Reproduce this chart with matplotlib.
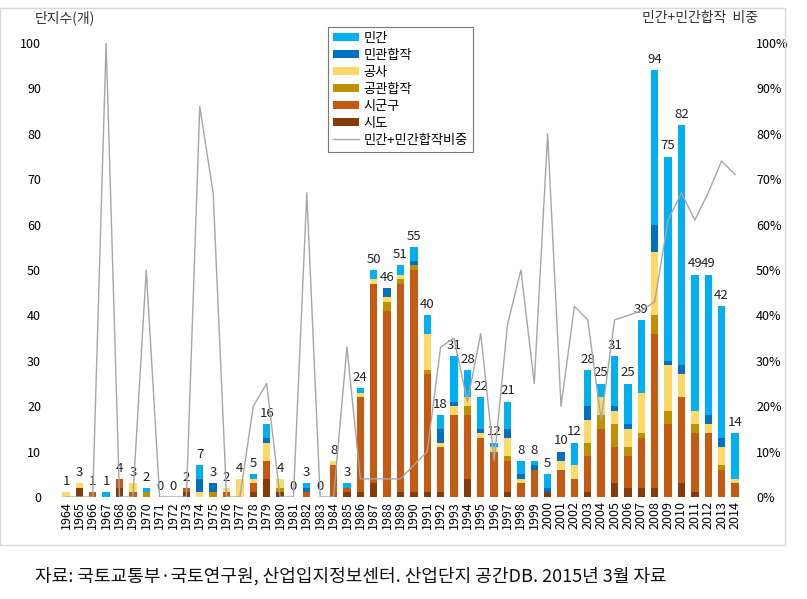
import matplotlib.pyplot as plt
import numpy as np
from matplotlib.patches import Rectangle

plt.rcParams['font.family'] = ['Noto Sans CJK KR', 'DejaVu Sans']

# Data
years = list(range(1964, 2015))
totals = [1, 3, 1, 1, 4, 3, 2, 0, 0, 2, 7, 3, 2, 4, 5, 16, 4, 0, 3, 0,
          8, 3, 24, 50, 46, 51, 55, 40, 18, 31, 28, 22, 12, 21, 8, 8, 5, 10,
          12, 28, 25, 31, 25, 39, 94, 75, 82, 49, 49, 42, 14]

sido = [0, 2, 0, 0, 2, 0, 0, 0, 0, 1, 0, 0, 0, 0, 1, 4, 1, 0, 0, 0,
        0, 1, 1, 3, 0, 1, 1, 1, 1, 0, 4, 0, 0, 1, 0, 0, 1, 0,
        0, 1, 0, 3, 2, 2, 2, 0, 3, 1, 0, 0, 0]
sigungu = [0, 0, 1, 0, 2, 1, 0, 0, 0, 1, 0, 0, 1, 0, 2, 4, 0, 0, 1, 0,
           7, 1, 21, 44, 41, 46, 49, 26, 10, 18, 14, 13, 10, 7, 3, 6, 0, 6,
           4, 8, 15, 8, 7, 11, 34, 16, 19, 13, 14, 6, 3]
gonggwan = [0, 0, 0, 0, 0, 0, 1, 0, 0, 0, 0, 1, 0, 0, 0, 0, 1, 0, 0, 0,
            0, 0, 0, 0, 2, 1, 1, 1, 0, 0, 2, 0, 0, 1, 0, 0, 0, 0,
            0, 3, 3, 5, 2, 1, 4, 3, 0, 2, 0, 1, 0]
gongsa = [1, 1, 0, 0, 0, 2, 0, 0, 0, 0, 1, 0, 1, 4, 1, 4, 2, 0, 0, 0,
          1, 0, 1, 1, 1, 1, 0, 8, 1, 2, 2, 1, 1, 4, 1, 0, 0, 2,
          3, 5, 4, 3, 4, 9, 14, 10, 5, 3, 2, 4, 1]
mingwan = [0, 0, 0, 0, 0, 0, 0, 0, 0, 0, 3, 2, 0, 0, 0, 1, 0, 0, 1, 0,
           0, 0, 0, 0, 2, 0, 1, 0, 3, 1, 0, 1, 0, 2, 1, 1, 1, 2,
           0, 3, 0, 1, 1, 0, 6, 1, 2, 0, 2, 2, 0]
mingan = [0, 0, 0, 1, 0, 0, 1, 0, 0, 0, 3, 0, 0, 0, 1, 3, 0, 0, 1, 0,
          0, 1, 1, 2, 0, 2, 3, 4, 3, 10, 6, 7, 1, 6, 3, 1, 3, 0,
          5, 8, 3, 11, 9, 16, 34, 45, 53, 30, 31, 29, 10]

# share of 민간+민관합작 (%)
share = [0, 0, 0, 100, 0, 0, 50, 0, 0, 0, 86, 67, 0, 0, 20, 25, 0, 0, 67, 0,
         0, 33, 4, 4, 4, 4, 7, 10, 33, 35, 21, 36, 8, 38, 50, 25, 80, 20,
         42, 39, 17, 39, 40, 41, 43, 61, 67, 61, 67, 74, 71]

series = [('시도', sido, '#843C0C'),
          ('시군구', sigungu, '#C55A11'),
          ('공관합작', gonggwan, '#BF9000'),
          ('공사', gongsa, '#FFD966'),
          ('민관합작', mingwan, '#0070C0'),
          ('민간', mingan, '#00B0F0')]

fig = plt.figure(figsize=(8.07, 5.99), dpi=100)
ax = fig.add_axes([55 / 807, 1 - 497 / 599, 690 / 807, 454 / 599])

x = np.array(years)
bottom = np.zeros(len(years))
handles = {}
for name, vals, color in series:
    b = ax.bar(x, vals, 0.55, bottom=bottom, color=color, label=name, zorder=2)
    handles[name] = b
    bottom += np.array(vals)

for xi, t in zip(x, totals):
    ax.annotate(str(t), (xi, t), xytext=(0, 3), textcoords='offset points',
                ha='center', va='bottom', fontsize=9.5, color='#222222')

ax.set_xlim(1963.18, 2014.75)
ax.set_ylim(0, 100)
ax.set_yticks(range(0, 101, 10))
ax.set_xticks(years)
ax.set_xticklabels([str(y) for y in years], rotation=90, fontsize=9)
ax.tick_params(axis='y', labelsize=9, length=0, pad=10)
ax.tick_params(axis='x', length=0, pad=3)
for s in ax.spines.values():
    s.set_visible(False)

ax2 = ax.twinx()
line, = ax2.plot(x, share, color='#A6A6A6', lw=1, label='민간+민간합작비중', zorder=3)
ax2.set_ylim(0, 100)
ax2.set_yticks(range(0, 101, 10))
ax2.set_yticklabels([f'{v}%' for v in range(0, 101, 10)])
ax2.tick_params(axis='y', labelsize=9, length=0, pad=8)
for s in ax2.spines.values():
    s.set_visible(False)

order = ['민간', '민관합작', '공사', '공관합작', '시군구', '시도']
leg = ax2.legend([handles[n] for n in order] + [line], order + ['민간+민간합작비중'],
                 loc='upper left', bbox_to_anchor=(321 / 807, 1 - 20 / 599),
                 bbox_transform=fig.transFigure, fontsize=9.5, frameon=True,
                 fancybox=False, edgecolor='#555555', handlelength=2.0,
                 handleheight=0.6, labelspacing=0.3, borderpad=0.4,
                 handletextpad=0.3)
leg.get_frame().set_linewidth(0.8)

fig.text(35 / 807, 1 - 18 / 599, '단지수(개)', fontsize=10, va='center', color='#333333')
fig.text(642 / 807, 1 - 18 / 599, '민간+민간합작  비중', fontsize=10, va='center', color='#333333')
fig.text(35 / 807, 1 - 576 / 599,
         '자료: 국토교통부·국토연구원, 산업입지정보센터. 산업단지 공간DB. 2015년 3월 자료',
         fontsize=13, va='center', color='#111111')

# outer chart frame
fig.add_artist(Rectangle((0, 1 - 545 / 599), 785 / 807, 537 / 599, transform=fig.transFigure,
                         fill=False, edgecolor='#D9D9D9', lw=1))

fig.savefig('out.png', dpi=100)
